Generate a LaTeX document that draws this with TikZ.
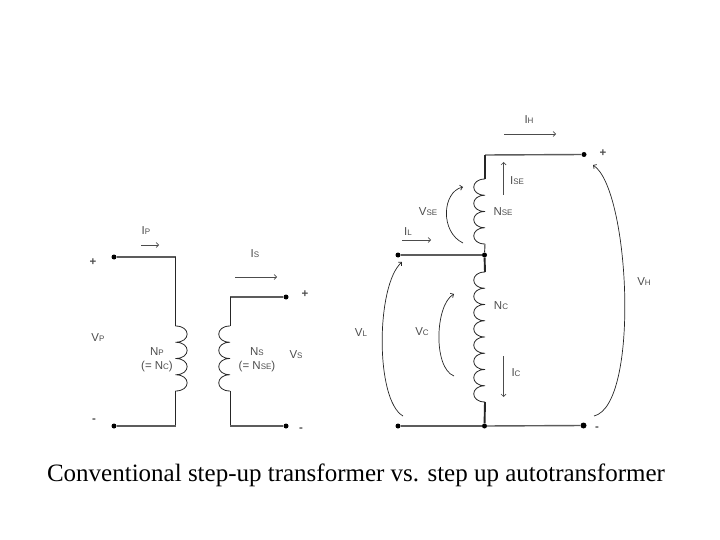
\documentclass[tikz,border=0pt]{standalone}
\usepackage{fontspec}
\setmainfont{Liberation Serif}
\newfontfamily\lblfont{Liberation Sans}
\usetikzlibrary{arrows.meta}
\definecolor{lbl}{gray}{0.3}
\definecolor{wire}{gray}{0.36}
\newcommand{\sbs}[2]{#1{\fontsize{8}{9}\selectfont #2}}
\tikzset{
  x=1pt,y=-1pt,
  wirea/.style={draw=wire,line width=1.4pt},
  wirethin/.style={draw=black!85,line width=0.9pt},
  wirethick/.style={draw=black!85,line width=1.9pt},
  coil/.style={draw=black!85,line width=0.8pt},
  lab/.style={font=\lblfont\fontsize{11.5}{13}\selectfont,text=lbl,inner sep=0pt,align=center},
  sign/.style={font=\lblfont\bfseries\fontsize{11.5}{13}\selectfont,text=lbl,inner sep=0pt},
  term/.style={circle,fill=black,inner sep=0pt,minimum size=5pt},
  flow/.style={draw=black!70,line width=0.7pt,-{Straight Barb[length=2.5pt,width=5pt]}},
  volt/.style={draw=black!85,line width=0.7pt,-{Straight Barb[length=2.5pt,width=5pt]}},
}
\begin{document}
\begin{tikzpicture}
\useasboundingbox (0,0) rectangle (720,540);
% --- conventional transformer
\node[term] (pt) at (114,257) {};
\node[term] (pb) at (114,426) {};
\node[term] (st) at (286,297) {};
\node[term] (sb) at (286,426) {};
\coordinate (pc1) at (175.5,257);
\coordinate (pc2) at (175.5,326);
\coordinate (pc3) at (175.5,391);
\coordinate (pc4) at (175.5,426);
\coordinate (sc1) at (230,297);
\coordinate (sc2) at (230,326);
\coordinate (sc3) at (230,391);
\coordinate (sc4) at (230,426);
\draw[wirea] (pt) -- (pc1);
\draw[wirethin] (pc1) -- (pc2);
\draw[coil] (175.5,326) .. controls (191,326) and (191,342.25) .. (175.5,342.25)
  .. controls (191,342.25) and (191,358.5) .. (175.5,358.5)
  .. controls (191,358.5) and (191,374.75) .. (175.5,374.75)
  .. controls (191,374.75) and (191,391) .. (175.5,391);
\draw[wirethin] (pc3) -- (pc4);
\draw[wirea] (pc4) -- (pb);
\draw[wirethick,draw=wire] (st) -- (sc1);
\draw[wirethin] (sc1) -- (sc2);
\draw[coil] (230,326) .. controls (215,326) and (215,342.25) .. (230,342.25)
  .. controls (215,342.25) and (215,358.5) .. (230,358.5)
  .. controls (215,358.5) and (215,374.75) .. (230,374.75)
  .. controls (215,374.75) and (215,391) .. (230,391);
\draw[wirethin] (sc3) -- (sc4);
\draw[wirea] (sc4) -- (sb);
\node[sign] (lp) at (93,262) {+};
\node[sign] (lm) at (94,421) {-};
\node[lab] (lvp) at (98,338) {\sbs{V}{P}};
\node[lab] (lip) at (146,231) {\sbs{I}{P}};
\coordinate (a1) at (141,245); \coordinate (a2) at (159,245);
\draw[flow] (a1) -- (a2);
\node[lab] (lis) at (255,254) {\sbs{I}{S}};
\coordinate (a3) at (235,277); \coordinate (a4) at (277,277);
\draw[flow] (a3) -- (a4);
\node[sign] (lsp) at (305,294) {+};
\node[sign] (lsm) at (301,430) {-};
\node[lab] (lvs) at (296,355) {\sbs{V}{S}};
\node[lab] (lnp) at (157,352) {\sbs{N}{P}};
\node[lab] (lnc) at (157,367) {(= \sbs{N}{C})};
\node[lab] (lns) at (257,352) {\sbs{N}{S}};
\node[lab] (lnse) at (257,367) {(= \sbs{N}{SE})};
% --- autotransformer
\node[term] (ht) at (584,154.5) {};
\node[term] (lt) at (398,255) {};
\node[term] (mid) at (484.5,255) {};
\node[term] (lb) at (398,426) {};
\node[term] (mb) at (484.5,426) {};
\node[term,minimum size=6pt] (hb) at (583.5,425.5) {};
\coordinate (c0) at (485,155);
\coordinate (c1) at (485,179);
\coordinate (c2) at (485,244);
\coordinate (c3) at (485,272);
\coordinate (c4) at (485,402);
\draw[wirea] (ht) -- (c0);
\draw[wirethick] (c0) -- (c1);
\draw[coil] (485,179) .. controls (470,179) and (470,195.25) .. (485,195.25)
  .. controls (470,195.25) and (470,211.5) .. (485,211.5)
  .. controls (470,211.5) and (470,227.75) .. (485,227.75)
  .. controls (470,227.75) and (470,244) .. (485,244);
\draw[wirethin] (c2) -- (mid);
\draw[wirea] (lt) -- (mid);
\draw[wirethick] (mid) -- (c3);
\draw[coil] (485,272) .. controls (470,272) and (470,288.25) .. (485,288.25)
  .. controls (470,288.25) and (470,304.5) .. (485,304.5)
  .. controls (470,304.5) and (470,320.75) .. (485,320.75)
  .. controls (470,320.75) and (470,337) .. (485,337)
  .. controls (470,337) and (470,353.25) .. (485,353.25)
  .. controls (470,353.25) and (470,369.5) .. (485,369.5)
  .. controls (470,369.5) and (470,385.75) .. (485,385.75)
  .. controls (470,385.75) and (470,402) .. (485,402);
\draw[wirethick] (c4) -- (mb);
\draw[wirea] (lb) -- (mb);
\draw[wirea] (mb) -- (hb);
% arrows
\coordinate (b1) at (504,134); \coordinate (b2) at (556,134);
\draw[flow] (b1) -- (b2);
\coordinate (b3) at (503.5,195); \coordinate (b4) at (503.5,162);
\draw[flow] (b3) -- (b4);
\coordinate (b5) at (402,240); \coordinate (b6) at (431,240);
\draw[flow] (b5) -- (b6);
\coordinate (b7) at (503.5,356); \coordinate (b8) at (503.5,397);
\draw[flow] (b7) -- (b8);
% voltage curves
\coordinate (v1) at (463,243); \coordinate (v2) at (463,187);
\draw[volt] (v1) .. controls (440,232) and (442,192) .. (v2);
\coordinate (v3) at (403,416); \coordinate (v4) at (402,262);
\draw[volt] (v3) .. controls (375,400) and (376,285) .. (v4);
\coordinate (v5) at (454,376); \coordinate (v6) at (454,294);
\draw[volt] (v5) .. controls (433,368) and (435,305) .. (v6);
\coordinate (v7) at (594,416); \coordinate (v8) at (593,165);
\draw[volt] (v7) .. controls (640,405) and (630,190) .. (v8);
% labels
\node[lab] (lih) at (529,120) {\sbs{I}{H}};
\node[sign] (lhp) at (603,153) {+};
\node[lab] (lise) at (517,181) {\sbs{I}{SE}};
\node[lab] (lnse2) at (503,212) {\sbs{N}{SE}};
\node[lab] (lvse) at (428,212) {\sbs{V}{SE}};
\node[lab] (lil) at (408,232) {\sbs{I}{L}};
\node[lab] (lvl) at (361,333) {\sbs{V}{L}};
\node[lab] (lvc) at (422,332) {\sbs{V}{C}};
\node[lab] (lnc2) at (501,306) {\sbs{N}{C}};
\node[lab] (lic) at (516,373) {\sbs{I}{C}};
\node[lab] (lvh) at (644,282) {\sbs{V}{H}};
\node[sign] (lhm) at (597,429) {-};
\node[inner sep=0pt,anchor=base,font=\fontsize{25}{28}\selectfont] (cap) at (356,481) {Conventional step-up transformer vs. step up autotransformer};
\end{tikzpicture}
\end{document}
